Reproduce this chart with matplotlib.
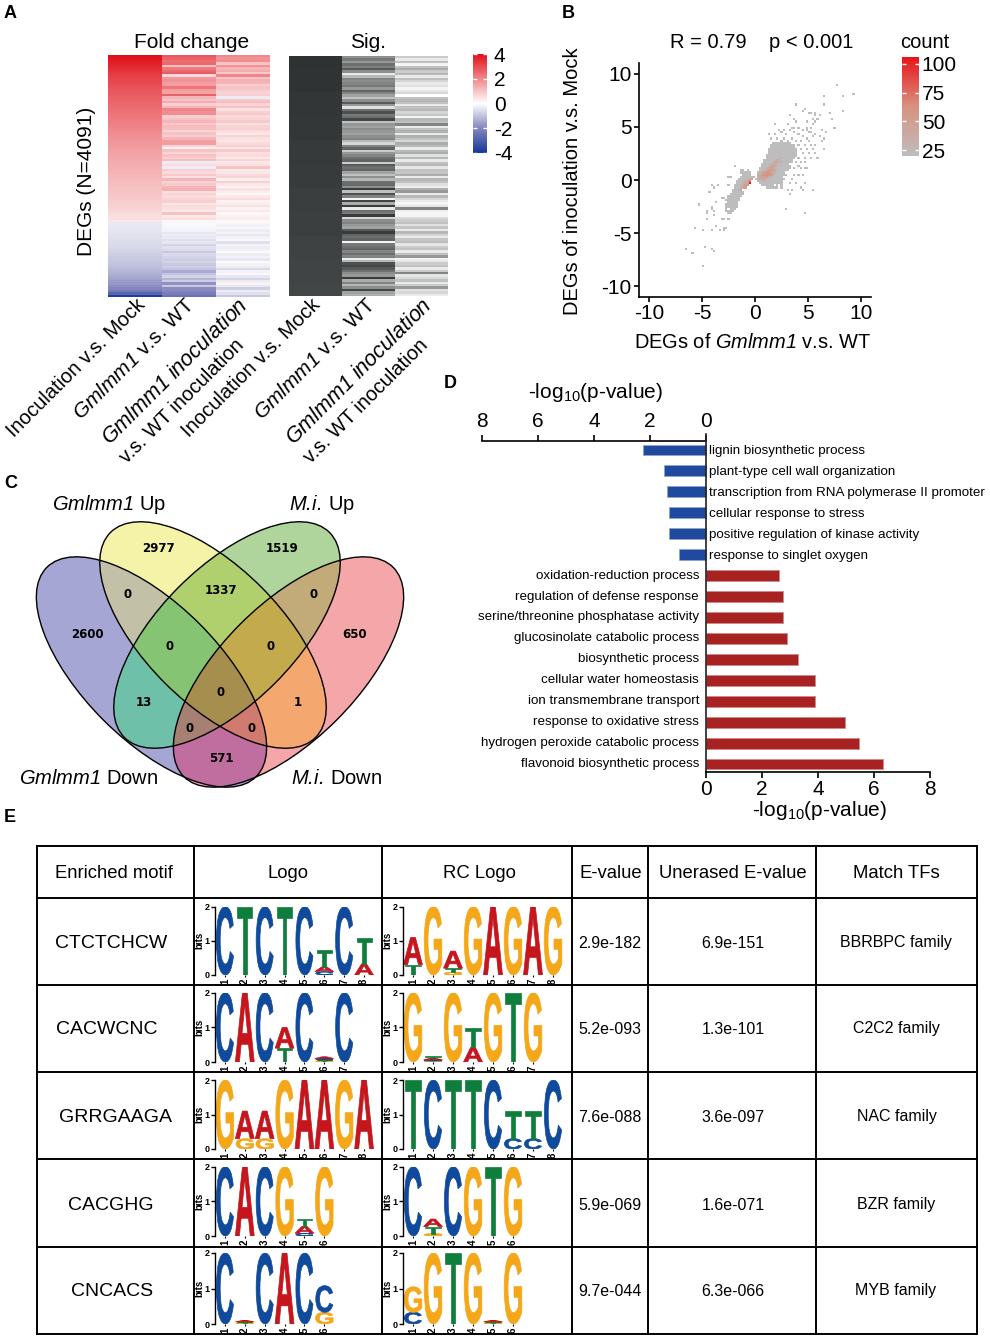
import numpy as np
import matplotlib
matplotlib.use('Agg')
import matplotlib.pyplot as plt
from matplotlib.colors import LinearSegmentedColormap, ListedColormap
from matplotlib.font_manager import FontProperties
from matplotlib.patches import Ellipse, PathPatch
from matplotlib.textpath import TextPath
from matplotlib.transforms import Affine2D

plt.rcParams['font.family'] = ['Liberation Sans', 'DejaVu Sans']
plt.rcParams['mathtext.fontset'] = 'custom'
plt.rcParams['mathtext.rm'] = 'Liberation Sans'
plt.rcParams['mathtext.it'] = 'Liberation Sans:italic'
plt.rcParams['mathtext.cal'] = 'Liberation Sans:italic'
plt.rcParams['mathtext.bf'] = 'Liberation Sans:bold'

W, H = 990, 1339

# panel A, one list per heatmap column, top row first
fc_mock = [4.0, 3.9, 3.8, 3.7, 3.6, 3.5, 3.4, 3.3, 3.2, 3.15, 3.05, 3.0, 2.95, 2.85, 2.8, 2.75, 2.7,
           2.65, 2.6, 2.55, 2.5, 2.45, 2.4, 2.35, 2.3, 2.25, 2.2, 2.15, 2.1, 2.05, 2.0, 1.95, 1.9,
           1.85, 1.8, 1.75, 1.7, 1.68, 1.62, 1.58, 1.55, 1.5, 1.46, 1.42, 1.4, 1.36, 1.32, 1.28,
           1.25, 1.22, 1.2, 1.16, 1.12, 1.1, 1.06, 1.02, 1.0, 0.96, 0.92, 0.88, 0.85, 0.8, 0.76,
           0.72, 0.68, 0.62, 0.56, 0.5, 0.42,
           -0.35, -0.38, -0.4, -0.42, -0.45, -0.48, -0.5, -0.55, -0.58, -0.6, -0.65, -0.7, -0.75,
           -0.8, -0.85, -0.9, -0.95, -1.0, -1.05, -1.1, -1.2, -1.3, -1.4, -1.5, -1.6, -1.7, -1.85,
           -2.0, -2.3, -2.8, -3.8]
fc_wt = [2.8, 2.6, 2.4, 2.5, 1.0, 2.2, 2.5, 2.7, 0.6, 1.7, 1.8, 1.6, 1.6, 2.3, 1.6, 1.5, 2.6, 1.2,
         1.0, 1.4, 0.8, 1.2, 2.0, 1.9, 1.9, 0.8, 1.0, 1.2, 0.9, 1.1, 1.0, 0.7, 1.0, 0.8, 1.2, 1.6,
         1.6, 0.7, 0.2, 1.0, 0.7, 1.0, 0.8, 1.1, -0.3, 0.6, -0.3, 0.8, 0.6, 0.9, 0.5, 1.2, 0.7,
         0.9, 1.2, 1.3, 0.5, 0.7, 0.6, 0.7, 0.8, 0.4, 0.6, 0.5, 0.4, 1.0, 0.3, 0.5, 0.15,
         -0.1, -0.1, -0.15, -0.2, -0.4, -0.3, -0.35, -0.5, -0.4, -0.7, -0.5, -0.6, -0.9, -0.6, -0.7,
         -0.8, -0.7, -0.9, -0.8, -1.0, -1.4, -1.0, -0.7, -1.2, -0.8, -1.8, -0.9, -1.9, -2.0, -2.2, -2.5]
fc_inter = [2.0, 1.8, 1.9, 1.0, 1.8, 1.2, 1.4, 0.9, 2.0, 1.0, 1.3, 1.2, 0.8, 1.0, 0.9, 0.7, 0.8, -0.3,
            0.9, 1.1, 0.7, 1.0, 0.5, 0.8, 0.9, 0.6, 0.7, 0.9, 0.5, 0.7, 0.8, 0.6, 0.4, 0.7, 0.5, 0.4,
            0.6, 0.8, 0.4, 0.9, 0.5, 0.6, 0.3, 0.7, 0.4, 0.5, 1.0, 0.3, 0.4, 0.6, 0.7, 0.3, 0.8, 0.4,
            0.2, 0.5, 0.3, 0.1, 0.4, 0.6, 0.2, 0.3, 0.5, 0.2, 0.4, 0.1, 0.2, 0.3, 0.1,
            -0.1, -0.2, -0.1, -0.3, -0.2, -0.4, -0.2, -0.1, -0.5, -0.2, -0.3, -0.2, 0.1, -0.3, -0.2,
            -0.4, 0.1, -0.2, -0.3, -0.6, -0.2, 0.1, -0.4, -0.7, -0.3, 0.2, -0.4, -0.8, -0.3, -0.5, -0.9]
sig_mock = [1.0, 0.99, 0.99, 0.98, 0.98, 0.97, 0.97, 0.96, 0.96, 0.95, 0.95, 0.94, 0.94, 0.93, 0.93,
            0.92, 0.92, 0.91, 0.91, 0.9]
sig_wt = [0.55, 0.65, 0.5, 0.7, 0.62, 0.8, 0.55, 0.1, 0.35, 0.6, 0.55, 0.6, 0.65, 0.5, 0.75, 0.6, 0.45,
          0.3, 0.55, 0.8, 0.5, 0.15, 0.7, 0.85, 0.65, 0.7, 0.9, 0.3, 0.5, 0.45, 0.55, 0.5, 0.45, 0.55,
          0.6, 0.35, 0.2, 0.6, 0.75, 0.25, 0.5, 0.6, 0.7, 0.75, 0.25, 0.8, 0.7, 0.75, 0.45, 0.3, 0.55,
          0.35, 0.7, 0.72, 0.55, 0.95, 0.3, 0.85, 0.6, 0.05, 0.9, 0.4, 0.95, 0.1, 0.7, 0.65, 0.95, 0.2,
          0.55, 0.6, 0.5, 0.45, 0.8, 0.95, 0.75, 0.7, 0.75, 0.05, 0.65, 0.7, 0.75, 0.6, 0.7, 0.6, 0.1,
          0.35, 0.85, 0.9, 0.8, 0.7, 0.55, 0.5, 0.95, 0.4, 0.6, 0.35, 0.55, 0.9, 0.45, 0.4]
sig_inter = [0.25, 0.1, 0.3, 0.05, 0.3, 0.4, 0.25, 0.35, 0.1, 0.3, 0.2, 0.1, 0.15, 0.05, 0.12, 0.2, 0.0,
             0.3, 0.35, 0.3, 0.1, 0.3, 0.35, 0.2, 0.28, 0.05, 0.35, 0.3, 0.6, 0.1, 0.3, 0.38, 0.1, 0.38,
             0.3, 0.2, 0.4, 0.35, 0.1, 0.35, 0.4, 0.15, 0.35, 0.1, 0.3, 0.35, 0.12, 0.3, 0.28, 0.4, 0.1,
             0.35, 0.3, 0.15, 0.08, 0.38, 0.5, 0.1, 0.35, 0.2, 0.1, 0.05, 0.12, 0.6, 0.08, 0.04, 0.05,
             0.18, 0.25, 0.3, 0.15, 0.28, 0.1, 0.35, 0.2, 0.1, 0.28, 0.32, 0.12, 0.25, 0.3, 0.1, 0.3,
             0.5, 0.05, 0.12, 0.25, 0.3, 0.1, 0.25, 0.6, 0.12, 0.2, 0.3, 0.1, 0.25, 0.5, 0.15, 0.2, 0.1]
fold_columns = [fc_mock, fc_wt, fc_inter]
sig_columns = [sig_mock, sig_wt, sig_inter]
heat_ticks = [-4, -2, 0, 2, 4]

# panel B, 2d histogram: dense rows (y, first x, one char per 0.2 bin, digit is a count level)
level_counts = [0, 20, 30, 40, 50, 60, 70, 80, 90, 104]
dense_y = [3.4, 3.2, 3.0, 2.8, 2.6, 2.4, 2.2, 2.0, 1.8, 1.6, 1.4, 1.2, 1.0, 0.8, 0.6, 0.4, 0.2, 0.0,
           -0.2, -0.4, -0.6, -0.8,
           0.8, 0.6, 0.4, 0.2, 0.0, -0.2, -0.4, -0.6, -0.8, -1.0, -1.2, -1.4, -1.6, -1.8, -2.0, -2.2,
           -2.4, -2.6, -2.8, -3.0, -3.2]
dense_x0 = [1.6, 1.4, 1.4, 1.2, 1.2, 1.2, 1.0, 1.0, 0.8, 0.8, 0.6, 0.6, 0.4, 0.4, 0.2, 0.2, 0.2, 0.0,
            0.2, 0.4, 0.6, 1.0,
            -1.6, -1.4, -1.2, -1.4, -1.6, -1.8, -1.8, -2.0, -2.0, -2.2, -2.2, -2.4, -2.6, -2.6, -2.8,
            -2.6, -2.8, -2.8, -2.8, -2.8, -2.8]
dense_cells = ['111111111', '11111111111', '111111111111', '1111111111111', '11111111111111',
               '1111111111111', '111111111111111', '1111112211111', '11111232111111', '11112332211111',
               '1111233211111', '11123432111111', '111234321111111', '11234443211111', '1234554321111',
               '23455543111111', '234443211111', '12333211111111', '111211111111', '11111111111',
               '111111.1.1', '111111.1',
               '.11.1', '11111', '1111', '1111112', '1111234', '1112346', '1112349', '1112345',
               '111234', '11123', '111121', '1111111', '1111111', '111111', '1111111', '11111', '111111',
               '111111', '1.111', '1111', '.11']
# scattered single cells, by row
sparse_row_y = [8.8, 8.1, 7.9, 7.0, 6.76, 6.55, 6.35, 6.13, 5.66, 5.44, 5.22, 4.97, 4.7, 4.4, 4.2, 4.0, 3.8,
                3.6, 3.3, 2.9, 2.4, 2.0, 1.6, 1.2, 1.0, 0.4, 0.1, -0.4, -0.7, -1.0, -1.4, -2.8, -3.2,
                1.26, 0.3, -0.53, -0.8, -1.2, -1.67, -2.1, -2.33, -2.55, -2.77, -3.0, -3.2, -3.4, -3.7,
                -4.3, -4.55, -4.8, -6.35, -6.55, -6.8, -7.0, -8.1]
sparse_row_x = [[7.8], [9.37], [6.45, 8.24], [6.45, 4.0], [4.7], [4.43, 8.24], [7.14, 5.13, 5.38, 5.63],
                [5.8, 6.13, 3.33], [7.36, 3.77, 5.57, 6.0], [4.0, 4.87, 5.8], [5.57, 1.98, 3.08],
                [7.57, 3.55, 3.77, 4.2, 4.87, 5.35], [2.4, 2.8, 3.4, 4.6, 5.0, 6.4], [2.6, 3.8, 5.2, 5.4, 6.7],
                [1.4, 2.0, 3.0, 4.2, 5.8], [4.6, 5.6, 6.2], [1.6, 2.2, 2.8, 3.6, 4.9, 6.6],
                [2.6, 3.2, 4.0, 4.4, 5.2, 6.4], [3.8, 4.2, 4.8, 5.4, 5.8], [3.9, 4.4, 5.0, 5.6, 6.6],
                [4.0, 4.6, 5.2, 5.8], [3.8, 4.2, 4.8, 5.4, 6.0], [3.9, 4.4, 4.8], [4.2],
                [3.8, 4.3, 4.8, 5.0], [3.7, 4.1, 4.6], [3.6], [3.4, 3.9, 4.7], [4.3], [3.2, 3.6, 4.5, 5.5],
                [3.4], [2.9], [4.7],
                [-1.8], [-2.4, -2.2], [-4.0, -3.4, -2.5], [-3.8], [-4.25], [-3.15, -2.9], [-3.6], [-5.35],
                [-4.0], [-4.0], [-4.45, -3.8], [-4.45], [-3.8], [-4.5, -3.1, -2.9, -2.4],
                [-3.6], [-5.6, -2.9, -2.67], [-4.9, -4.0, -3.35, -2.9], [-4.7], [-6.5, -4.0], [-3.8], [-5.8], [-4.9]]
count_ticks = [25, 50, 75, 100]
xy_ticks = [-10, -5, 0, 5, 10]

# panel C
venn_counts = ['2977', '1519', '0', '1337', '0', '2600', '650', '0', '0', '0', '13', '1', '0', '0', '571']

# panel D
go_down_terms = ['lignin biosynthetic process', 'plant-type cell wall organization',
                 'transcription from RNA polymerase II promoter', 'cellular response to stress',
                 'positive regulation of kinase activity', 'response to singlet oxygen']
go_down_values = [2.24, 1.49, 1.39, 1.31, 1.31, 0.96]
go_up_terms = ['oxidation-reduction process', 'regulation of defense response',
               'serine/threonine phosphatase activity', 'glucosinolate catabolic process',
               'biosynthetic process', 'cellular water homeostasis', 'ion transmembrane transport',
               'response to oxidative stress', 'hydrogen peroxide catabolic process',
               'flavonoid biosynthetic process']
go_up_values = [2.62, 2.74, 2.74, 2.91, 3.3, 3.91, 3.91, 4.97, 5.47, 6.31]

# panel E
table_header = ['Enriched motif', 'Logo', 'RC Logo', 'E-value', 'Unerased E-value', 'Match TFs']
motifs = ['CTCTCHCW', 'CACWCNC', 'GRRGAAGA', 'CACGHG', 'CNCACS']
e_values = ['2.9e-182', '5.2e-093', '7.6e-088', '5.9e-069', '9.7e-044']
unerased = ['6.9e-151', '1.3e-101', '3.6e-097', '1.6e-071', '6.3e-066']
match_tfs = ['BBRBPC family', 'C2C2 family', 'NAC family', 'BZR family', 'MYB family']
# each position is a stack of (letter, bits), bottom letter first
logo_1 = [[('C', 2)], [('T', 2)], [('C', 2)], [('T', 2)], [('C', 2)],
          [('C', 0.1), ('A', 0.14), ('T', 0.48)], [('C', 2)], [('A', 0.33), ('T', 0.75)]]
rc_1 = [[('T', 0.3), ('A', 0.8)], [('G', 2)], [('G', 0.08), ('T', 0.12), ('A', 0.5)], [('G', 2)],
        [('A', 2)], [('G', 2)], [('A', 2)], [('G', 2)]]
logo_2 = [[('C', 2)], [('A', 2)], [('C', 2)], [('T', 0.4), ('A', 0.6)], [('C', 2)],
          [('G', 0.03), ('T', 0.03), ('C', 0.04), ('A', 0.05)], [('C', 2)]]
rc_2 = [[('G', 2)], [('G', 0.03), ('C', 0.03), ('A', 0.05), ('T', 0.05)], [('G', 2)],
        [('A', 0.42), ('T', 0.55)], [('G', 2)], [('T', 2)], [('G', 2)]]
logo_3 = [[('G', 2)], [('G', 0.3), ('A', 0.8)], [('G', 0.3), ('A', 0.8)], [('G', 2)], [('A', 2)],
          [('A', 2)], [('G', 2)], [('A', 2)]]
rc_3 = [[('T', 2)], [('C', 2)], [('T', 2)], [('T', 2)], [('C', 2)], [('C', 0.3), ('T', 0.8)],
        [('C', 0.3), ('T', 0.8)], [('C', 2)]]
logo_4 = [[('C', 2)], [('A', 2)], [('C', 2)], [('G', 2)], [('C', 0.08), ('A', 0.2), ('T', 0.22)], [('G', 2)]]
rc_4 = [[('C', 2)], [('G', 0.07), ('T', 0.2), ('A', 0.22)], [('C', 2)], [('G', 2)], [('T', 2)], [('G', 2)]]
logo_5 = [[('C', 2)], [('G', 0.03), ('T', 0.03), ('A', 0.04)], [('C', 2)], [('A', 2)], [('C', 2)],
          [('G', 0.33), ('C', 0.75)]]
rc_5 = [[('C', 0.33), ('G', 0.72)], [('G', 2)], [('T', 2)], [('G', 2)],
        [('G', 0.03), ('T', 0.03), ('A', 0.04)], [('G', 2)]]
logos = [logo_1, logo_2, logo_3, logo_4, logo_5]
rc_logos = [rc_1, rc_2, rc_3, rc_4, rc_5]

fig = plt.figure(figsize=(W / 100, H / 100), dpi=100, facecolor='white')


def px_axes(x0, y0, x1, y1):
    return fig.add_axes([x0 / W, 1 - y1 / H, (x1 - x0) / W, (y1 - y0) / H])


# whole page axes in pixels, for text, table lines and the venn
page = fig.add_axes([0, 0, 1, 1])
page.set_xlim(0, W)
page.set_ylim(H, 0)
page.axis('off')

for letter, x, y in [('A', 4, 13), ('B', 562, 13), ('C', 4, 483), ('D', 444, 383), ('E', 4, 818)]:
    page.text(x, y, letter, fontsize=13, fontweight='bold', ha='left', va='center')

# ---- A
heat_cmap = LinearSegmentedColormap.from_list('fc', [(0, '#14389a'), (0.25, '#8486bd'), (0.5, '#ffffff'),
                                                     (1, '#e01018')])
grey_cmap = LinearSegmentedColormap.from_list('sig', ['#ffffff', '#2f3232'])

ax = px_axes(108, 55, 270, 297)
for i, col in enumerate(fold_columns):
    im = ax.imshow(np.array(col)[:, None], cmap=heat_cmap, vmin=-4, vmax=4, aspect='auto',
                   extent=[i, i + 1, 0, 1], interpolation='nearest')
ax.set_xlim(0, 3)
ax.set_ylim(0, 1)
ax.axis('off')

ax = px_axes(289, 56, 448, 296)
for i, col in enumerate(sig_columns):
    ax.imshow(np.array(col)[:, None], cmap=grey_cmap, vmin=0, vmax=1, aspect='auto',
              extent=[i, i + 1, 0, 1], interpolation='nearest')
ax.set_xlim(0, 3)
ax.set_ylim(0, 1)
ax.axis('off')

cax = px_axes(473, 54, 487, 153)
cb = fig.colorbar(im, cax=cax, ticks=heat_ticks)
cb.outline.set_visible(False)
cb.ax.tick_params(length=3, width=1, color='white', direction='in', left=True, right=True,
                  labelsize=15, pad=5)
cb.ax.set_yticklabels([str(t) for t in heat_ticks])

page.text(192, 42, 'Fold change', fontsize=15, ha='center', va='center')
page.text(368, 42, 'Sig.', fontsize=15, ha='center', va='center')
page.text(87, 181, 'DEGs (N=4091)', fontsize=15, rotation=90, ha='center', va='center')

gm_inoc = r'$\mathcal{Gmlmm1\ inoculation}$'
gm_wt = r'$\mathcal{Gmlmm1}$ v.s. WT'
rot_labels = [(136, 295, 'Inoculation v.s. Mock', 14.5), (185, 295, gm_wt, 15),
              (238, 295, gm_inoc, 15.5), (234, 335, 'v.s. WT inoculation', 14.3),
              (311, 295, 'Inoculation v.s. Mock', 14.5), (366, 295, gm_wt, 15),
              (422, 295, gm_inoc, 15.5), (418, 335, 'v.s. WT inoculation', 14.3)]
for x, y, s, size in rot_labels:
    page.text(x, y, s, fontsize=size, rotation=45, rotation_mode='anchor', ha='right', va='top')

# ---- B
bin_edges_x = np.arange(-7, 10.01, 0.2)
bin_edges_y = np.arange(-9, 9.41, 0.2)
sparse_x = [x for xs in sparse_row_x for x in xs]
sparse_y = [y for y, xs in zip(sparse_row_y, sparse_row_x) for x in xs]
sparse_hist = np.histogram2d(sparse_x, sparse_y, bins=[bin_edges_x, bin_edges_y])[0].T
counts = np.where(sparse_hist > 0, level_counts[1], 0.0)
for y, x0, cells in zip(dense_y, dense_x0, dense_cells):
    j = int(np.floor((y + 0.1 - bin_edges_y[0]) / 0.2))
    for k, c in enumerate(cells):
        if c != '.':
            i = int(np.floor((x0 + 0.2 * k + 0.1 - bin_edges_x[0]) / 0.2))
            counts[j, i] = level_counts[int(c)]

count_cmap = LinearSegmentedColormap.from_list('count', ['#bdbdbd', '#d9917f', '#e8141a'])
ax = px_axes(638.5, 63, 871, 297)
mesh = ax.pcolormesh(bin_edges_x, bin_edges_y, np.ma.masked_equal(counts, 0), cmap=count_cmap,
                     vmin=20, vmax=106)
ax.set_xlim(-11, 10.95)
ax.set_ylim(-11, 11)
ax.set_xticks(xy_ticks)
ax.set_yticks(xy_ticks)
ax.set_xticklabels([str(t) for t in xy_ticks])
ax.set_yticklabels([str(t) for t in xy_ticks])
ax.tick_params(labelsize=15, length=3.5, width=1.2, pad=1.5)
for side in ['top', 'right']:
    ax.spines[side].set_visible(False)
for side in ['left', 'bottom']:
    ax.spines[side].set_linewidth(1.2)

cax = px_axes(902, 57, 919, 156)
cb = fig.colorbar(mesh, cax=cax, ticks=count_ticks)
cb.outline.set_visible(False)
cb.ax.tick_params(length=3, width=1, color='white', direction='in', left=True, right=True,
                  labelsize=15, pad=2)

page.text(708, 43, 'R = 0.79', fontsize=14.5, ha='center', va='center')
page.text(811, 43, 'p < 0.001', fontsize=14.5, ha='center', va='center')
page.text(925, 42, 'count', fontsize=14.5, ha='center', va='center')
page.text(572, 181, 'DEGs of inoculation v.s. Mock', fontsize=14.5, rotation=90, ha='center', va='center')
page.text(753, 343, r'DEGs of $\mathcal{Gmlmm1}$ v.s. WT', fontsize=14.4, ha='center', va='center')

# ---- C
venn_shapes = [((151.5, 672), 148, 68, 45), ((213, 635), 145, 68, 45),
               ((227, 635), 145, 68, 135), ((288.5, 672), 148, 68, 135)]
# region colours, index is a bit code: blue 1, yellow 2, green 4, pink 8
venn_region_colors = ['#ffffff', '#a5a6d4', '#f5f3a8', '#c2c0a6', '#afd59c', '#6ec0a8', '#b0d06e', '#85c473',
                      '#f4a6a8', '#c06da0', '#f4a76e', '#d07a70', '#c2ab78', '#a68072', '#c2aa4d', '#a68f4e']
grid_x, grid_y = np.meshgrid(np.arange(20, 420, 0.5), np.arange(510, 800, 0.5))
region = np.zeros(grid_x.shape, dtype=int)
for bit, ((cx, cy), a, b, angle) in enumerate(venn_shapes):
    t = np.deg2rad(angle)
    u = (grid_x - cx) * np.cos(t) + (grid_y - cy) * np.sin(t)
    v = -(grid_x - cx) * np.sin(t) + (grid_y - cy) * np.cos(t)
    region += ((u / a) ** 2 + (v / b) ** 2 <= 1).astype(int) << bit
page.imshow(region, cmap=ListedColormap(venn_region_colors), vmin=-0.5, vmax=15.5, aspect='auto',
            extent=[20, 420, 800, 510], interpolation='nearest')
for center, a, b, angle in venn_shapes:
    page.add_patch(Ellipse(center, 2 * a, 2 * b, angle=angle, facecolor='none', edgecolor='black', linewidth=1))
page.set_xlim(0, W)
page.set_ylim(H, 0)

venn_pos = [(158, 548), (282, 548), (128, 594), (221, 591), (314, 594), (87, 635), (355, 635), (170, 646),
            (271, 646), (221, 692), (144, 703), (298, 703), (190, 729), (252, 729), (221, 759)]
for (x, y), s in zip(venn_pos, venn_counts):
    page.text(x, y, s, fontsize=8.5, fontweight='bold', family='DejaVu Sans', ha='center', va='center')
page.text(109, 505, r'$\mathcal{Gmlmm1}$ Up', fontsize=14.5, ha='center', va='center')
page.text(322, 505, r'$\mathcal{M.\!i.\!}$ Up', fontsize=14.5, ha='center', va='center')
page.text(89, 779, r'$\mathcal{Gmlmm1}$ Down', fontsize=14.5, ha='center', va='center')
page.text(337, 779, r'$\mathcal{M.\!i.\!}$ Down', fontsize=14.5, ha='center', va='center')

# ---- D
ax = px_axes(482, 441, 930, 772)
rows_down = np.arange(len(go_down_values))
rows_up = np.arange(len(go_up_values)) + len(go_down_values)
ax.barh(rows_down, [-v for v in go_down_values], height=0.52, color='#1f4aa0', edgecolor='#8fa5cf', linewidth=0.6)
ax.barh(rows_up, go_up_values, height=0.52, color='#a82222', edgecolor='#d08a8a', linewidth=0.6)
for r, s in zip(rows_down, go_down_terms):
    ax.text(0.11, r + 0.05, s, fontsize=9.6, ha='left', va='center')
for r, s in zip(rows_up, go_up_terms):
    ax.text(-0.25, r, s, fontsize=9.6, ha='right', va='center')
ax.set_xlim(-8, 8)
ax.set_ylim(15.38, -0.43)
ax.axvline(0, color='#222222', linewidth=1.2, ymax=1.02, clip_on=False)
ax.set_yticks([])
ax.set_xticks([0, 2, 4, 6, 8])
ax.set_xticklabels(['0', '2', '4', '6', '8'])
ax.tick_params(axis='x', labelsize=15, length=4, width=1.2, pad=2)
top_axis = ax.secondary_xaxis('top')
top_axis.set_xticks([-8, -6, -4, -2, 0])
top_axis.set_xticklabels(['8', '6', '4', '2', '0'])
top_axis.tick_params(labelsize=15, length=4, width=1.2, pad=3.5)
top_axis.spines['top'].set_bounds(-8, 0)
top_axis.spines['top'].set_linewidth(1.2)
for side in ['top', 'left', 'right']:
    ax.spines[side].set_visible(False)
ax.spines['bottom'].set_bounds(0, 8)
ax.spines['bottom'].set_linewidth(1.2)
ax.patch.set_alpha(0)
page.text(595, 392, '-log$_{10}$(p-value)', fontsize=15, ha='center', va='center')
page.text(819, 811, '-log$_{10}$(p-value)', fontsize=15, ha='center', va='center')

# ---- E
table_x = [36.5, 194, 382, 572, 648, 816, 977]
table_y = [846, 898, 985, 1072, 1159, 1247, 1334]
for x in table_x:
    page.plot([x, x], [table_y[0], table_y[-1]], color='black', linewidth=1.4, solid_capstyle='projecting')
for y in table_y:
    page.plot([table_x[0], table_x[-1]], [y, y], color='black', linewidth=1.4, solid_capstyle='projecting')
page.set_xlim(0, W)
page.set_ylim(H, 0)

header_x = [114, 288, 479, 611, 733, 896]
for x, s in zip(header_x, table_header):
    page.text(x, 874, s, fontsize=13.3, ha='center', va='center')
row_text_y = [944, 1030, 1117, 1206, 1292]
motif_x = [111, 107, 116, 111, 112]
tf_x = [896, 896, 897, 896, 896]
for i, y in enumerate(row_text_y):
    page.text(motif_x[i], y, motifs[i], fontsize=14, ha='center', va='center')
    page.text(610, y, e_values[i], fontsize=11.5, ha='center', va='center')
    page.text(733, y, unerased[i], fontsize=11.5, ha='center', va='center')
    page.text(tf_x[i], y - 1, match_tfs[i], fontsize=11.5, ha='center', va='center')

letter_colors = {'A': '#c4161c', 'C': '#0f4a9c', 'G': '#f5a71a', 'T': '#0f7d3c'}
letter_widths = {'A': 0.95, 'C': 0.86, 'G': 0.88, 'T': 0.76}
letter_font = FontProperties(family='Liberation Sans', weight='bold')


def draw_logo(ax, stacks):
    for pos, stack in enumerate(stacks):
        bottom = 0
        for letter, bits in stack:
            path = TextPath((0, 0), letter, size=1, prop=letter_font)
            box = path.get_extents()
            w = letter_widths[letter]
            tr = Affine2D().translate(-box.x0, -box.y0).scale(w / box.width, bits / box.height)
            tr = tr.translate(pos + 1 - w / 2, bottom)
            ax.add_patch(PathPatch(path, transform=tr + ax.transData, facecolor=letter_colors[letter],
                                   edgecolor=letter_colors[letter], linewidth=0.5))
            bottom += bits
    ax.set_xlim(0.5, 8.5)
    ax.set_ylim(0, 2)
    ax.set_yticks([0, 1, 2])
    ax.set_yticklabels(['0', '1', '2'], fontsize=6.5, fontweight='bold')
    ax.set_xticks(range(1, len(stacks) + 1))
    ax.set_xticklabels([str(i) for i in range(1, len(stacks) + 1)], rotation=90, fontsize=7, fontweight='bold')
    ax.tick_params(axis='y', length=3, width=1, pad=1)
    ax.tick_params(axis='x', length=1.5, width=0.8, pad=1)
    ax.set_ylabel('bits', fontsize=7, fontweight='bold', labelpad=0)
    for side in ['top', 'right', 'bottom']:
        ax.spines[side].set_visible(False)
    ax.spines['left'].set_linewidth(1)
    ax.patch.set_alpha(0)


logo_rows = [(906.7, 975), (992.7, 1062), (1080, 1149), (1166.7, 1236), (1253, 1324)]
for (y_top, y_bottom), left_logo, right_logo in zip(logo_rows, logos, rc_logos):
    draw_logo(px_axes(215, y_top, 374, y_bottom), left_logo)
    draw_logo(px_axes(403, y_top, 563, y_bottom), right_logo)

fig.savefig('out.png', dpi=100, facecolor='white')
